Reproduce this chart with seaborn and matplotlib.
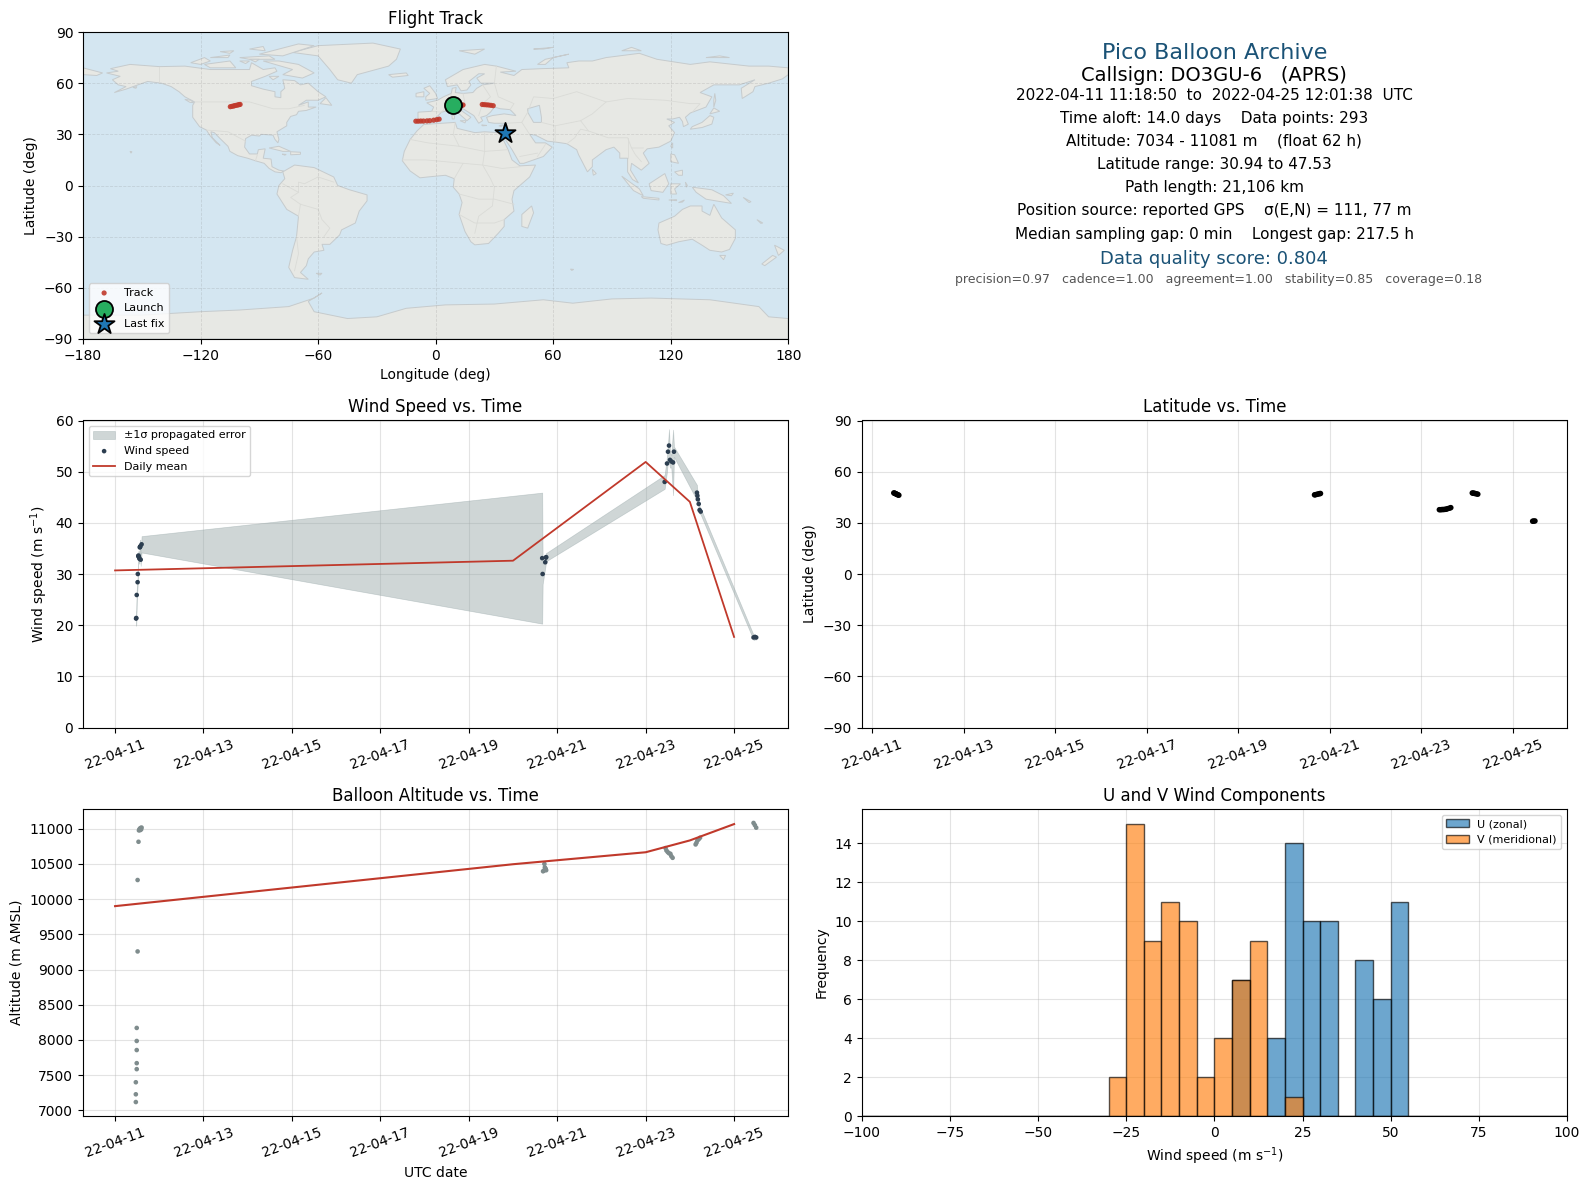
"""
plot.py

Pico balloon flight summary: map, info block, wind speed, latitude,
altitude and U/V wind histogram. Values are read off the reference picture.
"""
import matplotlib
matplotlib.use("Agg")
import matplotlib.dates as mdates
import matplotlib.pyplot as plt
import numpy as np
import pandas as pd
import seaborn as sns

# times are given as day of April 2022 (fractional)
TICK_DAYS = [11, 13, 15, 17, 19, 21, 23, 25]

# track fixes: day, latitude, longitude
TRACK_DAY = [11.47, 11.485, 11.50, 11.515, 11.53, 11.545, 11.56, 11.58,
             20.67, 20.69, 20.72, 20.75, 20.78, 20.80,
             23.40, 23.43, 23.46, 23.49, 23.52, 23.55, 23.58, 23.62, 23.65,
             24.12, 24.14, 24.16, 24.18, 24.21, 24.24,
             25.44, 25.46, 25.49]
TRACK_LAT = [47.53, 47.4, 47.2, 47.0, 46.8, 46.6, 46.4, 46.2,
             46.4, 46.5, 46.7, 46.9, 47.1, 47.2,
             37.7, 37.7, 37.8, 37.8, 37.9, 38.0, 38.3, 38.6, 38.9,
             47.5, 47.4, 47.3, 47.2, 47.0, 46.8,
             30.94, 31.0, 31.1]
TRACK_LON = [-99.8, -100.4, -101.0, -101.8, -102.6, -103.2, -104.0, -104.8,
             11.0, 11.6, 12.2, 12.8, 13.4, 14.0,
             -10.1, -8.9, -7.6, -6.2, -4.4, -3.0, -1.0, 0.6, 1.8,
             23.8, 24.8, 25.9, 27.0, 28.2, 29.4,
             35.1, 35.3, 35.5]

LAUNCH_LON, LAUNCH_LAT = 9.1, 47.2
LAST_LON, LAST_LAT = 35.3, 30.9

# wind speed samples with propagated 1-sigma error
WIND_DAY = [11.475, 11.48, 11.49, 11.51, 11.515, 11.525, 11.53, 11.54, 11.55, 11.56,
            11.565, 11.57, 11.58, 11.60,
            20.66, 20.67, 20.73, 20.745, 20.75,
            23.43, 23.483, 23.505, 23.528, 23.55, 23.58, 23.62, 23.64,
            24.16, 24.17, 24.18, 24.20, 24.22, 24.245,
            25.44, 25.47, 25.50]
WIND_SPEED = [21.3, 21.4, 25.9, 28.4, 30.0, 33.5, 33.6, 33.3, 33.0, 35.2,
              35.3, 35.4, 32.8, 35.8,
              33.1, 30.0, 32.3, 33.2, 33.3,
              48.0, 51.6, 53.9, 55.1, 52.3, 52.0, 51.8, 53.9,
              45.9, 45.3, 44.6, 43.7, 42.5, 42.2,
              17.6, 17.7, 17.6]
WIND_SIGMA = [1.4, 1.2, 1.0, 0.8, 0.8, 0.8, 0.9, 1.0, 1.0, 1.2,
              1.2, 1.3, 1.2, 1.6,
              12.8, 2.0, 1.0, 0.9, 0.8,
              1.35, 1.5, 1.5, 3.2, 1.5, 1.2, 6.4, 1.0,
              1.5, 0.9, 0.8, 0.8, 0.7, 0.6,
              0.5, 0.5, 0.4]

MEAN_DAY = [11, 20, 23, 24, 25]
WIND_MEAN = [30.7, 32.6, 51.9, 44.1, 17.7]
ALT_MEAN = [9900, 10495, 10665, 10833, 11065]

# altitude samples
ALT_DAY = [11.47, 11.47, 11.47, 11.49, 11.49, 11.49, 11.49, 11.49,
           11.51, 11.51, 11.53, 11.54, 11.55, 11.56, 11.57, 11.58, 11.59, 11.60,
           20.68, 20.70, 20.71, 20.72, 20.74, 20.75,
           23.45, 23.47, 23.50, 23.53, 23.56, 23.58, 23.61,
           24.13, 24.15, 24.17, 24.20, 24.23,
           25.44, 25.47, 25.50]
ALT_M = [7119, 7229, 7400, 7586, 7671, 7857, 7986, 8171,
         9257, 10271, 10814, 10975, 10985, 11000, 10980, 11010, 10990, 11015,
         10395, 10405, 10500, 10450, 10430, 10410,
         10724, 10690, 10667, 10650, 10643, 10610, 10586,
         10776, 10800, 10833, 10850, 10871,
         11081, 11050, 11014]

# histogram counts, 5 m/s bins
HIST_EDGES = list(range(-100, 105, 5))
HIST_LEFT = [-30, -25, -20, -15, -10, -5, 0, 5, 10, 15, 20, 25, 30, 35, 40, 45, 50]
U_COUNTS = [0, 0, 0, 0, 0, 0, 0, 7, 0, 4, 14, 10, 10, 0, 8, 6, 11]
V_COUNTS = [2, 15, 9, 11, 10, 2, 4, 7, 9, 0, 1, 0, 0, 0, 0, 0, 0]

INFO_LINES = [
    ("Pico Balloon Archive", 16, "#1a5276"),
    ("Callsign: DO3GU-6   (APRS)", 14, "black"),
    ("2022-04-11 11:18:50  to  2022-04-25 12:01:38  UTC", 11, "black"),
    ("Time aloft: 14.0 days    Data points: 293", 11, "black"),
    ("Altitude: 7034 - 11081 m    (float 62 h)", 11, "black"),
    ("Latitude range: 30.94 to 47.53", 11, "black"),
    ("Path length: 21,106 km", 11, "black"),
    ("Position source: reported GPS    σ(E,N) = 111, 77 m", 11, "black"),
    ("Median sampling gap: 0 min    Longest gap: 217.5 h", 11, "black"),
    ("Data quality score: 0.804", 13, "#1a5276"),
    ("precision=0.97   cadence=1.00   agreement=1.00   stability=0.85   coverage=0.18", 9, "#555555"),
]
INFO_Y = [0.932, 0.858, 0.792, 0.717, 0.645, 0.570, 0.492, 0.417, 0.340, 0.260, 0.195]
INFO_X = [0.5, 0.5, 0.5, 0.5, 0.5, 0.5, 0.5, 0.5, 0.5, 0.5, 0.506]

# coarse land outlines (lon, lat)
NORTH_AMERICA = [(-168, 66), (-162, 67), (-166, 68.5), (-156, 71), (-141, 69.7), (-128, 70), (-115, 68),
                 (-108, 68), (-95, 68), (-94, 72), (-88, 68), (-82, 69), (-81, 67), (-87, 64), (-94, 61),
                 (-94, 58.5), (-88, 56.5), (-82, 55), (-82, 52), (-79, 51.5), (-79, 55), (-77, 57), (-78, 62),
                 (-72, 61.5), (-69, 59), (-65, 60), (-60, 55), (-56, 52), (-60, 50), (-66, 50), (-70, 47),
                 (-65, 49), (-65, 46), (-61, 46), (-66, 44), (-70, 43.5), (-71, 41.5), (-74, 40.5), (-76, 37),
                 (-76, 35), (-81, 31.5), (-80, 27), (-80.5, 25), (-82, 27), (-83, 29.5), (-85, 29.7), (-89, 30),
                 (-90, 29), (-94, 29.5), (-97, 27.5), (-97.5, 22.5), (-95, 18.5), (-91, 18.5), (-90.5, 21),
                 (-87, 21.5), (-88, 16), (-84, 15.5), (-83.5, 11), (-80, 9), (-77.5, 8.5), (-79, 7.5), (-82, 8),
                 (-85, 10), (-87.5, 13), (-92, 14.5), (-96, 16), (-101, 17.5), (-105, 20), (-106, 23),
                 (-110, 27.5), (-113, 31), (-114.7, 31.5), (-114, 28), (-110, 23.5), (-112, 25), (-115, 29),
                 (-117, 32.5), (-120.5, 34.5), (-124, 40), (-124, 47), (-123, 49), (-128, 52), (-131, 55),
                 (-135, 58), (-140, 60), (-147, 61), (-152, 59), (-158, 56.5), (-164, 54.5), (-158, 58),
                 (-162, 59), (-165, 62), (-161, 64)]
GREENLAND = [(-73, 78), (-60, 82), (-32, 83.5), (-18, 80), (-20, 74), (-24, 70), (-40, 65), (-43, 60), (-50, 62),
             (-54, 68), (-60, 76)]
BAFFIN = [(-80, 73), (-70, 71), (-62, 66), (-68, 63), (-78, 65), (-73, 68), (-88, 73)]
VICTORIA = [(-118, 71), (-105, 73), (-102, 69), (-115, 69)]
ELLESMERE = [(-90, 77), (-70, 83), (-62, 82), (-78, 76)]
BANKS = [(-125, 72), (-118, 75), (-115, 73), (-120, 71)]
DEVON = [(-100, 75), (-85, 76), (-82, 74), (-95, 74)]
MELVILLE = [(-115, 75), (-105, 76.5), (-106, 75)]
SOUTHAMPTON = [(-85, 64), (-80, 64), (-83, 62)]
PRINCE_WALES = [(-100, 73), (-95, 73), (-97, 71.5)]
AXEL_HEIBERG = [(-95, 80), (-88, 81.5), (-87, 79)]
ELLEF = [(-110, 78.5), (-103, 79), (-105, 77.5)]
SOMERSET = [(-95, 74), (-90, 74), (-92, 72.5)]
KODIAK = [(-154.5, 57.5), (-152.5, 58), (-153, 57)]
VANCOUVER = [(-128, 50.5), (-125, 50), (-123.5, 48.5), (-125.5, 48.8)]
HAWAII = [(-156, 20), (-155, 19.8), (-155.5, 19)]
NEWFOUNDLAND = [(-59, 48), (-56, 51.5), (-53, 47)]
CUBA = [(-85, 22), (-80, 23), (-74, 20), (-78, 20)]
HISPANIOLA = [(-74, 19.8), (-69, 19.5), (-69, 18.3), (-74, 18)]
JAMAICA = [(-78.3, 18.4), (-76.3, 18.2), (-77, 17.8)]
SOUTH_AMERICA = [(-78, 8), (-72, 12), (-62, 10.5), (-52, 5), (-50, 0), (-44, -2.5), (-35, -5.5), (-35, -9), (-39, -15),
                 (-41, -22), (-48, -26), (-49, -29), (-54, -34.5), (-58, -34.5), (-57, -38), (-62, -39), (-65, -43),
                 (-66, -47), (-69, -51), (-65, -55), (-72, -54), (-75, -48), (-73, -38), (-71, -30), (-70, -18),
                 (-76, -14), (-81, -5), (-80, 0), (-77, 4)]
FALKLAND = [(-61, -51.5), (-58, -51.5), (-59, -52.5)]
AFRICA = [(-6, 35.8), (10, 37), (11, 33.5), (20, 31), (25, 31.5), (32, 31), (34, 28), (37, 21), (39, 15), (43, 11.5),
          (51, 12), (48, 5), (40, -3), (39, -8), (40, -15), (35, -20), (35, -24), (32, -28), (27, -34), (20, -34.8),
          (18, -33), (15, -27), (12, -17), (13.5, -10), (12, -5), (9, -1), (9.5, 4), (5, 6), (-4, 5), (-8, 4.5),
          (-13, 8.5), (-17, 14.5), (-16, 20), (-13, 27), (-9.5, 32)]
MADAGASCAR = [(49, -12), (50, -16), (47, -25), (44, -24), (44, -17)]
KERGUELEN = [(68.8, -49), (70.5, -49.2), (69.5, -49.8)]
EURASIA = [(-9, 37), (-9, 43), (-2, 43.5), (-1, 46), (-4.5, 48.5), (1, 50), (4, 52), (8, 54), (8.5, 57), (10.5, 57.5),
           (10, 54.5), (14, 54), (19, 54.5), (21, 57), (24, 59), (30, 60), (23, 60), (21, 63), (25, 65.5), (22, 65.5),
           (17, 61), (18, 59), (16, 56), (13, 55.5), (11, 59), (6, 58), (5, 62), (14, 68), (25, 71), (31, 70), (41, 67),
           (33, 66.5), (40, 64.5), (44, 68), (54, 68.5), (68, 69), (67, 72), (73, 73), (80, 73), (87, 75), (104, 77.5),
           (113, 74), (130, 71), (140, 72.5), (160, 70), (170, 70), (180, 69), (180, 65), (177, 62.5), (170, 60),
           (163, 58), (162, 55), (156.5, 51), (156, 57), (163, 62), (155, 59), (142, 59), (135, 54.5), (141, 52),
           (138, 46), (130, 42.5), (127.5, 40), (129, 36), (126.5, 34.5), (126, 37.5), (124.5, 40), (121, 39), (118, 39),
           (122, 37), (119, 35), (122, 31), (120, 26), (114, 22.5), (108, 21.5), (106, 19), (109, 13), (105, 9),
           (100, 13), (99.5, 9), (103.5, 1.5), (100.5, 3.5), (98, 8), (98, 16), (94, 16), (94, 19), (91, 22.5), (87, 21),
           (80, 15), (80, 11), (77.5, 8), (73, 18), (72, 21), (67, 24.5), (61, 25.5), (57, 26), (51, 29.5), (48, 30),
           (51, 25), (56, 25), (59.5, 22.5), (55, 17), (45, 13), (43, 13), (39, 21), (35, 28), (35, 31.5), (36, 36.5),
           (30, 36.5), (27, 37), (26, 40), (29, 41), (35, 42), (41, 41), (38, 44.5), (33, 45), (30, 46), (28, 43),
           (26, 41), (23, 40), (24, 38), (22, 36.5), (19.5, 41), (14, 45), (13, 44), (18, 40), (16, 38), (12, 42),
           (9, 44.5), (3, 43), (0, 39.5), (-2, 37), (-5.5, 36)]
CHUKOTKA = [(-180, 69), (-175, 67.5), (-170, 66), (-173, 64.5), (-180, 65)]
BRITAIN = [(-5, 50), (1, 51), (0, 54), (-3, 58.5), (-6, 57), (-3, 54), (-5, 52)]
IRELAND = [(-10, 52), (-6, 52), (-6, 55), (-10, 54)]
ICELAND = [(-24, 65), (-15, 66), (-14, 64.5), (-22, 63.5)]
SICILY = [(12.5, 38), (15.5, 38), (15, 36.7)]
SARDINIA = [(8.3, 41), (9.7, 41), (9.5, 39), (8.5, 39)]
CRETE = [(23.5, 35.5), (26.2, 35.2), (24, 35)]
CYPRUS = [(32.3, 35), (34.5, 35.6), (33.5, 34.6)]
SVALBARD = [(12, 79), (25, 80), (20, 77)]
FRANZ_JOSEF = [(50, 80), (60, 81), (55, 80)]
NOVAYA_ZEMLYA = [(52, 71), (56, 74), (68, 77), (60, 75), (56, 71)]
SEVERNAYA = [(95, 79), (105, 79), (100, 81)]
NEW_SIBERIAN = [(138, 75), (145, 76), (150, 75)]
HONSHU = [(130, 33), (136, 34), (141, 36), (142, 40), (140, 41), (136, 37), (131, 34.5)]
HOKKAIDO = [(140, 42), (145, 43.5), (142, 45.5)]
SAKHALIN = [(142, 46), (143, 50), (142.5, 54), (142, 50)]
TAIWAN = [(121, 25), (121, 22), (120, 23)]
LUZON = [(120, 18.5), (122, 18), (124, 13), (120, 14)]
MINDANAO = [(122, 8), (126, 9), (126, 6), (124, 6)]
BORNEO = [(109, 1), (117, 7), (119, 1), (116, -4), (110, -3)]
SUMATRA = [(95, 5.5), (104, -2), (106, -6), (101, -3)]
JAVA = [(105, -6.5), (114, -7.5), (114, -8.5), (106, -7.5)]
FLORES = [(119, -8.5), (123, -8.3), (123, -8.9)]
TIMOR = [(124, -10), (127, -8.5), (126, -9.7)]
SULAWESI = [(120, 1), (125, 1), (122, -2), (123, -5), (120, -5)]
HALMAHERA = [(127.5, 2), (128.5, 0), (128, -1)]
NEW_GUINEA = [(131, -1), (141, -2.5), (147, -6), (151, -10.5), (143, -9), (138, -8), (133, -4)]
NEW_BRITAIN = [(148, -5.5), (152, -4.5), (151, -6)]
SOLOMON = [(157, -7), (161, -9.5), (160, -10)]
NEW_CALEDONIA = [(164, -20), (167, -22), (166, -22.2)]
AUSTRALIA = [(114, -22), (122, -18), (126, -14), (130, -12), (136, -12), (136, -15), (140, -17.5), (142, -11), (146, -19),
             (153, -26), (153, -31), (150, -37.5), (146, -39), (140, -38), (136, -35), (131, -31.5), (124, -33), (118, -35),
             (115, -34), (113.5, -26)]
TASMANIA = [(145, -41), (148, -41), (147, -43.5)]
NZ_NORTH = [(173, -35), (178, -38), (175, -41), (174, -38)]
NZ_SOUTH = [(172, -41), (174, -42), (168, -47), (166.5, -46)]
CEYLON = [(80, 9.5), (82, 7), (80.5, 6)]
ANTARCTICA = [(-180, -76), (-150, -76), (-120, -74), (-100, -73), (-75, -71), (-62, -66), (-58, -63), (-65, -68), (-62, -74),
              (-45, -78), (-30, -77), (-15, -72), (5, -70), (30, -69.5), (55, -67), (70, -69), (90, -66.5), (110, -66),
              (140, -67), (165, -71), (170, -77), (180, -78), (180, -90), (-180, -90)]
LAND_POLYGONS = [NORTH_AMERICA, GREENLAND, BAFFIN, VICTORIA, ELLESMERE, BANKS, DEVON, MELVILLE, SOUTHAMPTON, PRINCE_WALES,
                 AXEL_HEIBERG, ELLEF, SOMERSET, KODIAK, VANCOUVER, HAWAII, NEWFOUNDLAND, CUBA, HISPANIOLA, JAMAICA,
                 SOUTH_AMERICA, FALKLAND, AFRICA, MADAGASCAR, KERGUELEN, EURASIA, CHUKOTKA, BRITAIN, IRELAND, ICELAND,
                 SICILY, SARDINIA, CRETE, CYPRUS, SVALBARD, FRANZ_JOSEF, NOVAYA_ZEMLYA, SEVERNAYA, NEW_SIBERIAN, HONSHU,
                 HOKKAIDO, SAKHALIN, TAIWAN, LUZON, MINDANAO, BORNEO, SUMATRA, JAVA, FLORES, TIMOR, SULAWESI, HALMAHERA,
                 NEW_GUINEA, NEW_BRITAIN, SOLOMON, NEW_CALEDONIA, AUSTRALIA, TASMANIA, NZ_NORTH, NZ_SOUTH, CEYLON, ANTARCTICA]
CASPIAN = [(47, 45), (53, 47), (54, 40), (54, 37), (50, 37), (47, 43)]

# a few inland borders
BORDER_LINES = [
    [(-141, 69.7), (-141, 60)], [(-123, 49), (-95, 49), (-83, 45), (-75, 45), (-67, 47)],
    [(-117, 32.5), (-106, 31.5), (-97, 26)], [(-92, 14.5), (-91, 18)],
    [(-70, -18), (-69, -11), (-74, -7), (-70, -4), (-70, 2), (-67, 1), (-60, 5)], [(-57, -30), (-54, -25), (-58, -20), (-60, -14), (-69, -11)],
    [(-71, -30), (-70, -40), (-72, -50)], [(-60, 5), (-52, 2)], [(-78, 1), (-70, -4)],
    [(-13, 27), (-4, 25), (12, 23), (25, 20), (37, 21)], [(-17, 15), (-5, 15), (14, 13), (24, 12), (34, 10), (43, 11)],
    [(25, 31), (25, 20), (24, 12), (28, 4), (30, -1), (29, -12), (22, -18), (20, -28)], [(12, -5), (22, -8), (30, -8), (40, -11)],
    [(9.5, 4), (14, 13)], [(10, 37), (9, 30), (12, 23)], [(35, -20), (30, -22), (20, -22), (12, -17)],
    [(-2, 43.5), (3, 43)], [(8, 54), (7, 48), (3, 43)], [(14, 54), (15, 48), (14, 45)], [(24, 59), (28, 52), (24, 48), (22, 41)],
    [(31, 70), (30, 60), (32, 52), (40, 48), (38, 44.5)], [(47, 43), (50, 52), (60, 51), (72, 55), (87, 49), (98, 51), (117, 50), (130, 48), (135, 48), (131, 43)],
    [(87, 49), (80, 42), (74, 38), (78, 32), (88, 28), (98, 28), (100, 22), (106, 22)], [(61, 25.5), (61, 35), (74, 38)],
    [(67, 24.5), (71, 28), (74, 33), (78, 32)], [(36, 36.5), (44, 37), (48, 30)], [(44, 37), (47, 43)], [(61, 35), (54, 37)],
    [(98, 28), (98, 16)], [(100, 22), (102, 18), (105, 14)], [(52, 17), (56, 24)], [(43, 17), (52, 19)],
]

LAND_COLOR = "#e7e8e4"
OCEAN_COLOR = "#d4e6f1"
COAST_COLOR = "#c6cbcd"
RED = "#c0392b"
NAVY = "#2c3e50"
GREY = "#7f8c8d"


def to_dates(days):
    """Converts fractional April 2022 days into timestamps."""
    return pd.Timestamp("2022-04-01") + pd.to_timedelta(np.asarray(days, dtype=float) - 1, unit="D")


def style_time_axis(ax):
    ax.set_xticks(to_dates(TICK_DAYS))
    ax.xaxis.set_major_formatter(mdates.DateFormatter("%y-%m-%d"))
    ax.tick_params(axis="x", rotation=20)
    ax.grid(True, color="#b0b0b0", alpha=0.35)
    ax.set_axisbelow(True)


def plot_map(ax):
    ax.set_facecolor(OCEAN_COLOR)
    for poly in LAND_POLYGONS:
        lons, lats = zip(*poly)
        ax.fill(lons, lats, facecolor=LAND_COLOR, edgecolor=COAST_COLOR, linewidth=0.7, zorder=1)
    lons, lats = zip(*CASPIAN)
    ax.fill(lons, lats, facecolor=OCEAN_COLOR, edgecolor=COAST_COLOR, linewidth=0.7, zorder=1.1)
    for line in BORDER_LINES:
        lons, lats = zip(*line)
        ax.plot(lons, lats, color="#dadbd7", linewidth=0.6, zorder=1.2)

    sns.scatterplot(x=TRACK_LON, y=TRACK_LAT, s=14, color=RED, alpha=0.9, edgecolor="none",
                    label="Track", zorder=3, ax=ax)
    ax.scatter([LAUNCH_LON], [LAUNCH_LAT], s=150, marker="o", color="#27ae60", edgecolor="black",
               linewidth=1.3, label="Launch", zorder=4)
    ax.scatter([LAST_LON], [LAST_LAT], s=230, marker="*", color="#1f77b4", edgecolor="black",
               linewidth=1.3, label="Last fix", zorder=5)

    ax.set_xlim(-180, 180)
    ax.set_ylim(-90, 90)
    ax.set_xticks(np.arange(-180, 181, 60))
    ax.set_yticks(np.arange(-90, 91, 30))
    ax.grid(True, color="gray", linestyle="--", linewidth=0.6, alpha=0.22)
    ax.set_xlabel("Longitude (deg)")
    ax.set_ylabel("Latitude (deg)")
    ax.set_title("Flight Track")
    ax.legend(loc="lower left", fontsize=8)


def plot_info(ax):
    ax.axis("off")
    for (line, size, color), x, y in zip(INFO_LINES, INFO_X, INFO_Y):
        ax.text(x, y, line, fontsize=size, color=color, ha="center", va="center", transform=ax.transAxes)


def plot_wind(ax):
    dates = to_dates(WIND_DAY)
    speed = np.array(WIND_SPEED)
    sigma = np.array(WIND_SIGMA)
    ax.fill_between(dates, speed - sigma, speed + sigma, color="#95a5a6", alpha=0.45, linewidth=0.5,
                    label="±1σ propagated error")
    sns.scatterplot(x=dates, y=speed, s=11, color=NAVY, edgecolor="none", label="Wind speed", ax=ax)
    sns.lineplot(x=to_dates(MEAN_DAY), y=WIND_MEAN, color=RED, linewidth=1.3, label="Daily mean", ax=ax)
    ax.set_ylim(0, 60)
    style_time_axis(ax)
    ax.set_xlabel("")
    ax.set_ylabel("Wind speed (m s$^{-1}$)")
    ax.set_title("Wind Speed vs. Time")
    ax.legend(loc="upper left", fontsize=8)


def plot_latitude(ax):
    sns.scatterplot(x=to_dates(TRACK_DAY), y=TRACK_LAT, s=16, color="black", edgecolor="none", ax=ax)
    ax.set_ylim(-90, 90)
    ax.set_yticks(np.arange(-90, 91, 30))
    style_time_axis(ax)
    ax.set_xlabel("")
    ax.set_ylabel("Latitude (deg)")
    ax.set_title("Latitude vs. Time")


def plot_altitude(ax):
    sns.scatterplot(x=to_dates(ALT_DAY), y=ALT_M, s=11, color=GREY, edgecolor="none", ax=ax)
    sns.lineplot(x=to_dates(MEAN_DAY), y=ALT_MEAN, color=RED, linewidth=1.5, ax=ax)
    style_time_axis(ax)
    ax.set_xlabel("UTC date")
    ax.set_ylabel("Altitude (m AMSL)")
    ax.set_title("Balloon Altitude vs. Time")


def plot_histogram(ax):
    centers = np.array(HIST_LEFT) + 2.5
    edge = (0, 0, 0, 0.65)
    sns.histplot(x=centers, weights=U_COUNTS, bins=HIST_EDGES, color="#1f77b4", alpha=0.65, edgecolor=edge,
                 linewidth=1.0, label="U (zonal)", ax=ax)
    sns.histplot(x=centers, weights=V_COUNTS, bins=HIST_EDGES, color="#ff7f0e", alpha=0.65, edgecolor=edge,
                 linewidth=1.0, label="V (meridional)", ax=ax)
    ax.set_xlim(-100, 100)
    ax.set_ylim(0, 15.75)
    ax.set_yticks(np.arange(0, 15, 2))
    ax.grid(True, color="#b0b0b0", alpha=0.35)
    ax.set_axisbelow(True)
    ax.set_xlabel("Wind speed (m s$^{-1}$)")
    ax.set_ylabel("Frequency")
    ax.set_title("U and V Wind Components")
    ax.legend(loc="upper right", fontsize=8)


fig, axes = plt.subplots(3, 2, figsize=(15.9, 11.89), dpi=100)
fig.subplots_adjust(left=83 / 1590, right=1567 / 1590, top=1 - 32 / 1189, bottom=1 - 1116 / 1189,
                    wspace=73.5 / 705.25, hspace=81.5 / 307)
plot_map(axes[0, 0])
plot_info(axes[0, 1])
plot_wind(axes[1, 0])
plot_latitude(axes[1, 1])
plot_altitude(axes[2, 0])
plot_histogram(axes[2, 1])
fig.savefig("out.png", dpi=100)
plt.close(fig)
